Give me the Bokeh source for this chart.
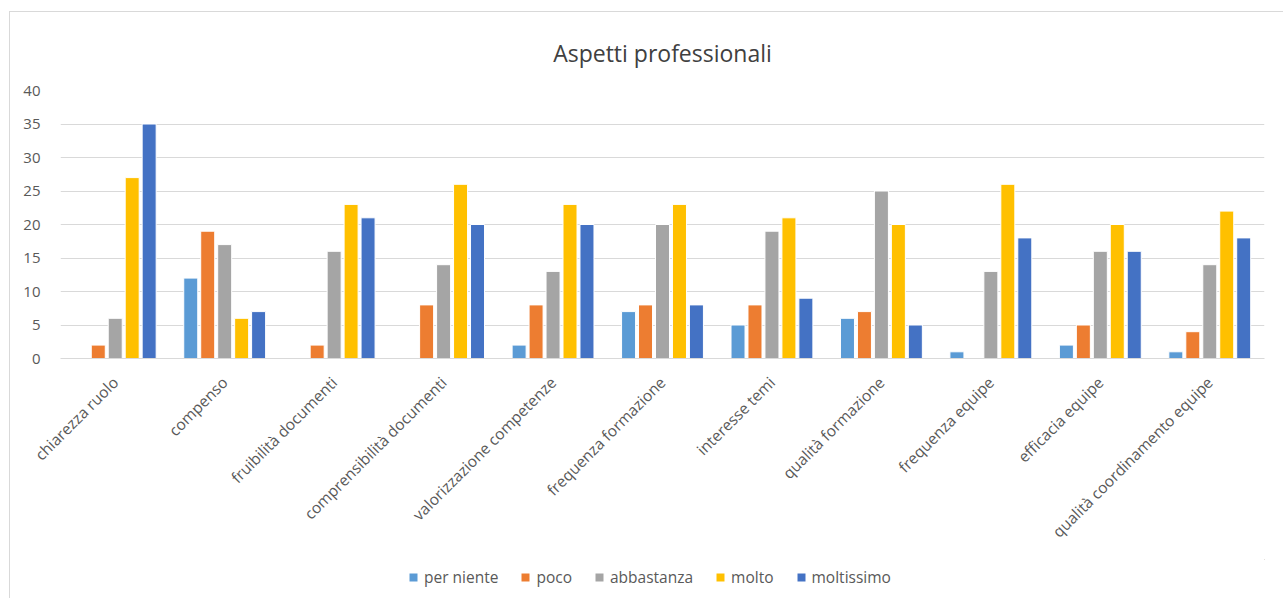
import math
from bokeh.plotting import figure
from bokeh.layouts import column
from bokeh.models import (FactorRange, Range1d, Legend, LegendItem, FixedTicker,
                          ColumnDataSource)
from bokeh.transform import dodge
from bokeh.embed import file_html
from bokeh.resources import INLINE

categories = ["chiarezza ruolo", "compenso", "fruibilità documenti", "comprensibilità documenti",
              "valorizzazione competenze", "frequenza formazione", "interesse temi",
              "qualità formazione", "frequenza equipe", "efficacia equipe",
              "qualità coordinamento equipe"]
series_names = ["per niente", "poco", "abbastanza", "molto", "moltissimo"]
per_niente = [0, 12, 0, 0, 2, 7, 5, 6, 1, 2, 1]
poco = [2, 19, 2, 8, 8, 8, 8, 7, 0, 5, 4]
abbastanza = [6, 17, 16, 14, 13, 20, 19, 25, 13, 16, 14]
molto = [27, 6, 23, 26, 23, 23, 21, 20, 26, 20, 22]
moltissimo = [35, 7, 21, 20, 20, 8, 9, 5, 18, 16, 18]
y_ticks = [0, 5, 10, 15, 20, 25, 30, 35, 40]
colors = ["#5B9BD5", "#ED7D31", "#A5A5A5", "#FFC000", "#4472C4"]

FONT = "Open Sans"
TXT = "#595959"

src = ColumnDataSource(dict(cat=categories, s0=per_niente, s1=poco, s2=abbastanza,
                            s3=molto, s4=moltissimo))

p = figure(x_range=FactorRange(*categories), y_range=Range1d(0, 40),
           width=1274, height=548, output_backend="svg", toolbar_location=None,
           min_border_left=50, min_border_right=20, min_border_top=76, min_border_bottom=202)
p.margin = (11, 0, 0, 9)
p.styles = {"border-left": "1px solid #d9d9d9", "border-top": "1px solid #d9d9d9"}
p.outline_line_color = None

for i, col in enumerate(colors):
    p.vbar(x=dodge("cat", (i - 2) * 0.155, range=p.x_range), top="s%d" % i, width=0.128,
           source=src, fill_color=col, line_color="white", line_width=1)

p.title.text = "Aspetti professionali"
p.title.align = "center"
p.title.text_font = FONT
p.title.text_font_size = "23px"
p.title.text_font_style = "normal"
p.title.text_color = "#404040"
p.title.standoff = 44

p.yaxis.ticker = FixedTicker(ticks=y_ticks)
p.yaxis.axis_line_color = None
p.yaxis.major_tick_line_color = None
p.yaxis.minor_tick_line_color = None
p.yaxis.major_label_text_font = FONT
p.yaxis.major_label_text_font_size = "15px"
p.yaxis.major_label_text_color = TXT
p.yaxis.major_label_standoff = 14

p.xaxis.axis_line_color = "#d9d9d9"
p.xaxis.major_tick_line_color = None
p.xaxis.minor_tick_line_color = None
p.xaxis.major_label_orientation = math.pi / 4
p.xaxis.major_label_text_font = FONT
p.xaxis.major_label_text_font_size = "15.5px"
p.xaxis.major_label_text_color = TXT
p.xaxis.major_label_standoff = 15

p.xgrid.grid_line_color = None
p.ygrid.grid_line_color = "#d9d9d9"

# legend strip below the chart
q = figure(x_range=Range1d(0, 1), y_range=Range1d(0, 1), width=1274, height=39,
           output_backend="svg", toolbar_location=None,
           min_border_left=0, min_border_right=0, min_border_top=0, min_border_bottom=0)
q.margin = (0, 0, 0, 9)
q.styles = {"border-left": "1px solid #d9d9d9"}
q.axis.visible = False
q.grid.visible = False
q.outline_line_color = None
items = []
for name, col in zip(series_names, colors):
    r = q.vbar(x=[5], top=[5], bottom=[4], width=0.1, fill_color=col, line_color=None)
    items.append(LegendItem(label=name, renderers=[r]))
legend = Legend(items=items, orientation="horizontal", location=(348, 10),
                glyph_width=10, glyph_height=10, label_standoff=6, spacing=22,
                padding=0, margin=0, border_line_color=None, background_fill_alpha=0,
                label_text_font=FONT, label_text_font_size="15.5px", label_text_color=TXT)
q.add_layout(legend)

layout = column(p, q, spacing=0)
open("out.html", "w").write(file_html(layout, INLINE))
